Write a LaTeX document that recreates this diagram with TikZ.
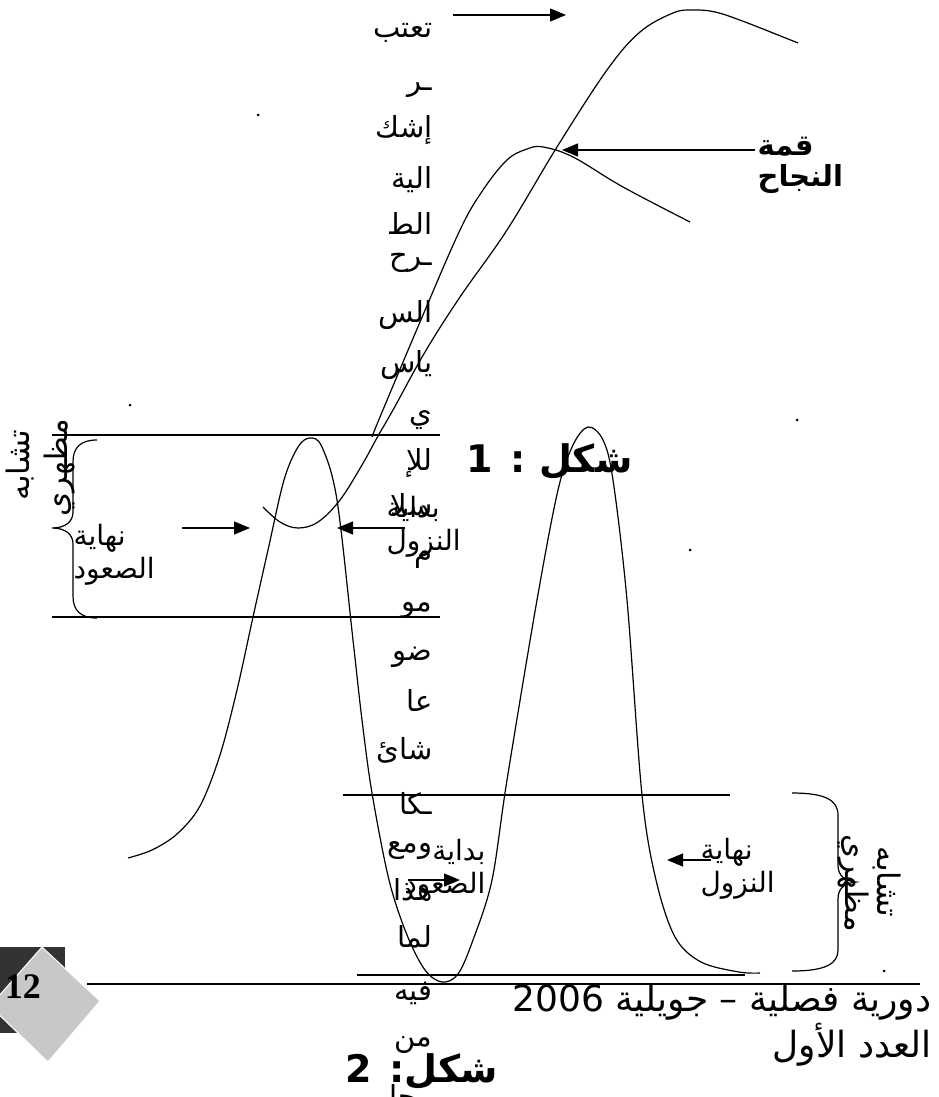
\documentclass[tikz,border=0pt]{standalone}
\usepackage{fontspec}
\usetikzlibrary{arrows.meta}
\TeXXeTstate=1
\newfontfamily\arabicfont[Script=Arabic]{DejaVu Sans}
\newfontfamily\pagefont{Liberation Serif}
\newcommand{\artxt}[1]{\beginR #1\endR}
\definecolor{boxDark}{HTML}{333333}
\definecolor{boxGray}{HTML}{C8C8C8}

\begin{document}
\begin{tikzpicture}[
  x=1pt, y=-1pt,
  line width=1.2pt,
  curve/.style={line width=1.2pt, line join=round},
  arrow/.style={-{Triangle[length=16pt,width=13pt]}, line width=1.2pt},
  col/.style={anchor=east, inner sep=0pt, font=\fontsize{29}{30}\arabicfont},
  lab/.style={inner sep=0pt, font=\fontsize{28}{33}\arabicfont},
  boldlab/.style={inner sep=0pt, font=\fontsize{29}{31}\arabicfont\bfseries},
  side/.style={inner sep=0pt, font=\fontsize{31}{32}\arabicfont},
  figlab/.style={inner sep=0pt, font=\fontsize{38}{40}\arabicfont\bfseries},
  foot/.style={anchor=east, inner sep=0pt, font=\fontsize{36}{38}\arabicfont},
]
\useasboundingbox (0,0) rectangle (939,1097);

% Page number box
\fill[boxDark] (0,947) rectangle (65,1033);
\filldraw[fill=boxGray, draw=white, line width=1pt]
  (42,947) -- (100,1001) -- (48,1062) -- (-10,1006) -- cycle;
\node[inner sep=0pt, font=\fontsize{36}{36}\pagefont\bfseries] (pagenum) at (23,987) {12};

% Guide lines
\draw (52,435) -- (440,435);
\draw (52,617) -- (440,617);
\draw (343,795) -- (730,795);
\draw (357,975) -- (745,975);
\draw (87,984) -- (920,984);

% Success curves
\draw[curve] plot[smooth, tension=0.6] coordinates {
  (263,507) (280,522) (298,528) (318,522) (340,500) (362,465) (378,436)
  (393,410) (425,352) (460,297) (507,230) (557,147) (607,70) (640,32)
  (673,13) (692,10) (715,12) (745,22) (798,43)};
\draw[curve] plot[smooth, tension=0.6] coordinates {
  (372,437) (380,417) (420,322) (460,230) (483,190) (507,160) (527,149)
  (543,147) (573,157) (623,187) (690,222)};

% Two bells
\draw[curve] plot[smooth, tension=0.55] coordinates {
  (128,858) (152,850) (177,834) (200,806) (220,755) (237,690) (253,617)
  (268,550) (284,480) (298,447) (310,438) (322,447) (337,500) (353,640)
  (362,720) (372,793) (389,880) (407,935) (425,970) (442,982) (458,974)
  (473,940) (492,880) (507,780) (537,600) (558,490) (573,445) (588,427)
  (603,440) (613,480) (627,600) (642,795) (656,880) (675,937) (701,962)
  (739,972) (760,973)};

% Braces
\draw (97,440) .. controls (80,440) and (73,448) .. (73,462) -- (73,512)
  .. controls (73,522) and (65,528) .. (52,528)
  .. controls (65,528) and (73,534) .. (73,544) -- (73,596)
  .. controls (73,610) and (80,618) .. (97,618);
\draw (792,793) .. controls (825,793) and (838,800) .. (838,815) -- (838,865)
  .. controls (838,876) and (845,881) .. (856,882)
  .. controls (845,883) and (838,888) .. (838,899) -- (838,950)
  .. controls (838,964) and (825,971) .. (792,971);

% Arrow ends
\coordinate (topStart) at (453,15);
\coordinate (topEnd) at (566,15);
\coordinate (peakStart) at (755,150);
\coordinate (peakEnd) at (562,150);
\coordinate (endUpStart) at (182,528);
\coordinate (endUpEnd) at (250,528);
\coordinate (startDownStart) at (405,528);
\coordinate (startDownEnd) at (337,528);
\coordinate (startUpStart) at (408,880);
\coordinate (startUpEnd) at (460,880);
\coordinate (endDownStart) at (711,860);
\coordinate (endDownEnd) at (667,860);

\draw[arrow] (topStart) -- (topEnd);
\draw[arrow] (peakStart) -- (peakEnd);
\draw[arrow] (endUpStart) -- (endUpEnd);
\draw[arrow] (startDownStart) -- (startDownEnd);
\draw[arrow] (startUpStart) -- (startUpEnd);
\draw[arrow] (endDownStart) -- (endDownEnd);

% Column text
\node[col] (c1) at (433,33) {\artxt{تعتب}};
\node[col] (c2) at (433,90) {\artxt{ـر}};
\node[col] (c3) at (433,130) {\artxt{إشك}};
\node[col] (c4) at (433,180) {\artxt{الية}};
\node[col] (c5) at (433,223) {\artxt{الط}};
\node[col] (c6) at (433,263) {\artxt{ـرح}};
\node[col] (c7) at (433,315) {\artxt{الس}};
\node[col] (c8) at (433,365) {\artxt{ياس}};
\node[col] (c9) at (433,420) {\artxt{ي}};
\node[col] (c10) at (433,463) {\artxt{للإ}};
\node[col] (c11) at (433,505) {\artxt{سلا}};
\node[col] (c12) at (433,560) {\artxt{م}};
\node[col] (c13) at (433,610) {\artxt{مو}};
\node[col] (c14) at (433,657) {\artxt{ضو}};
\node[col] (c15) at (433,700) {\artxt{عا}};
\node[col] (c16) at (433,750) {\artxt{شائ}};
\node[col] (c17) at (433,803) {\artxt{ـكا}};
\node[col] (c18) at (433,850) {\artxt{ومع}};
\node[col] (c19) at (433,890) {\artxt{هذا}};
\node[col] (c20) at (433,937) {\artxt{لما}};
\node[col] (c21) at (433,993) {\artxt{فيه}};
\node[col] (c22) at (433,1045) {\artxt{من}};
\node[col] (c23) at (433,1098) {\artxt{مجا}};

% Labels
\node[boldlab, anchor=west, align=left] (peak) at (757,165)
  {\artxt{قمة}\\\artxt{النجاح}};
\node[lab, anchor=west, align=left] (endUp) at (73,555)
  {\artxt{نهاية}\\\artxt{الصعود}};
\node[lab, anchor=west, align=left] (startDown) at (386,527)
  {\artxt{بداية}\\\artxt{النزول}};
\node[lab, anchor=east, align=right] (startUp) at (486,870)
  {\artxt{بداية}\\\artxt{الصعود}};
\node[lab, anchor=west, align=left] (endDown) at (700,869)
  {\artxt{نهاية}\\\artxt{النزول}};

% Side labels
\node[side, rotate=90] (simL) at (20,465) {\artxt{تشابه}};
\node[side, rotate=90] (lookL) at (60,468) {\artxt{مظهري}};
\node[side, rotate=-90] (lookR) at (853,883) {\artxt{مظهري}};
\node[side, rotate=-90] (simR) at (887,882) {\artxt{تشابه}};

% Figure titles
\node[figlab, anchor=east] (fig1) at (633,462) {\artxt{شكل : 1}};
\node[figlab, anchor=west] (fig2) at (345,1072) {\artxt{شكل: 2}};

% Footer
\node[foot] (issue) at (932,1002) {\artxt{دورية فصلية – جويلية \beginL2006\endL}};
\node[foot] (number) at (932,1045) {\artxt{العدد الأول}};

% Dots
\fill (258,115) circle (1.5pt);
\fill (130,405) circle (1.5pt);
\fill (797,420) circle (1.5pt);
\fill (690,550) circle (1.5pt);
\fill (884,971) circle (1.5pt);

\end{tikzpicture}
\end{document}
